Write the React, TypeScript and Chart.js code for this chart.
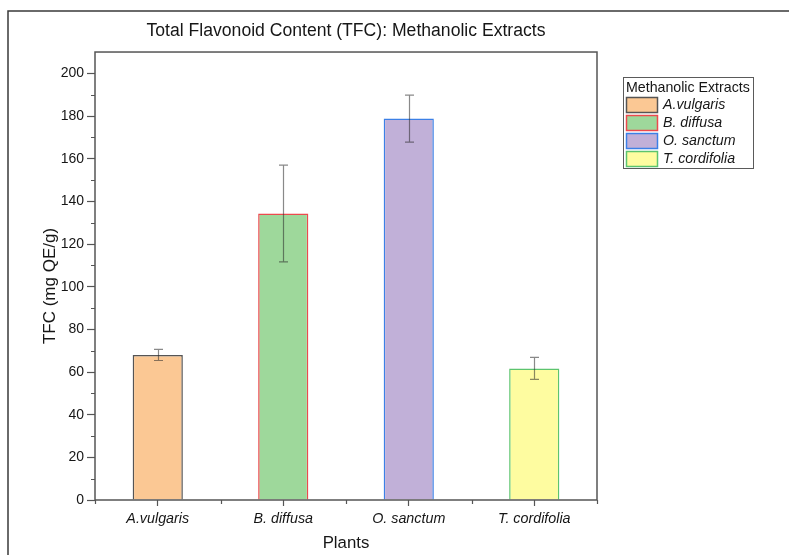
import React, { useEffect, useRef } from "react";
import { Chart, registerables } from "chart.js";

Chart.register(...registerables);

// ---- data ----
const categories = ["A.vulgaris", "B. diffusa", "O. sanctum", "T. cordifolia"];
const tfcValues = [68.0, 134.3, 178.8, 61.7];
const tfcErrors = [2.6, 22.7, 11.0, 5.2];
const yMinorTicks = [10, 30, 50, 70, 90, 110, 130, 150, 170, 190];
const fillColors = ["#FBC894", "#9ED89B", "#C1B0D8", "#FEFCA0"];
const borderColors = ["#555555", "#EC4A4E", "#3C80E6", "#5CC46E"];
const chartTitle = "Total Flavonoid Content (TFC): Methanolic Extracts";
const yAxisTitle = "TFC (mg QE/g)";
const xAxisTitle = "Plants";
const legendTitle = "Methanolic Extracts";

const FONT = "'Liberation Sans', Arial, sans-serif";
const TEXT = "#161616";
const AXIS = "#555555";

const decorPlugin = {
  id: "decor",
  afterDraw(chart: any) {
    const { ctx, chartArea: ca, scales } = chart;
    const xs = scales.x;
    const ys = scales.y;
    ctx.save();

    // error bars
    ctx.strokeStyle = "rgba(40,40,40,0.55)";
    ctx.lineWidth = 1.2;
    tfcValues.forEach((v, i) => {
      const px = Math.round(xs.getPixelForValue(i)) + 0.5;
      const top = ys.getPixelForValue(v + tfcErrors[i]);
      const bot = ys.getPixelForValue(v - tfcErrors[i]);
      ctx.beginPath();
      ctx.moveTo(px, top);
      ctx.lineTo(px, bot);
      ctx.moveTo(px - 4.5, top);
      ctx.lineTo(px + 4.5, top);
      ctx.moveTo(px - 4.5, bot);
      ctx.lineTo(px + 4.5, bot);
      ctx.stroke();
    });

    // plot frame
    ctx.strokeStyle = AXIS;
    ctx.lineWidth = 1.5;
    ctx.strokeRect(ca.left, ca.top, ca.right - ca.left, ca.bottom - ca.top);

    // minor ticks
    ctx.lineWidth = 1.2;
    ctx.beginPath();
    yMinorTicks.forEach((v) => {
      const py = Math.round(ys.getPixelForValue(v)) + 0.5;
      ctx.moveTo(ca.left - 4, py);
      ctx.lineTo(ca.left, py);
    });
    for (let i = 0; i <= categories.length; i++) {
      const px = Math.round(xs.getPixelForValue(i - 0.5)) + 0.5;
      ctx.moveTo(px, ca.bottom);
      ctx.lineTo(px, ca.bottom + 4);
    }
    ctx.stroke();

    // y axis title
    ctx.fillStyle = TEXT;
    ctx.font = `17px ${FONT}`;
    ctx.textAlign = "center";
    ctx.textBaseline = "middle";
    ctx.save();
    ctx.translate(50, 286);
    ctx.rotate(-Math.PI / 2);
    ctx.fillText(yAxisTitle, 0, 0);
    ctx.restore();

    // legend
    const lx = 623.5;
    const ly = 77.5;
    ctx.strokeStyle = "#5a5a5a";
    ctx.lineWidth = 1;
    ctx.strokeRect(lx, ly, 130, 91);
    ctx.textAlign = "left";
    ctx.font = `14.2px ${FONT}`;
    ctx.fillStyle = TEXT;
    ctx.fillText(legendTitle, 626, 88);
    categories.forEach((c, i) => {
      const cy = 105 + i * 18;
      ctx.fillStyle = fillColors[i];
      ctx.fillRect(626.5, cy - 7.5, 31, 15);
      ctx.strokeStyle = borderColors[i];
      ctx.lineWidth = 1.5;
      ctx.strokeRect(626.5, cy - 7.5, 31, 15);
      ctx.fillStyle = TEXT;
      ctx.font = `italic 14.2px ${FONT}`;
      ctx.fillText(c, 663, cy + 0.5);
    });

    // outer frame
    ctx.strokeStyle = "#3a3a3a";
    ctx.lineWidth = 1.5;
    ctx.beginPath();
    ctx.moveTo(8, 555);
    ctx.lineTo(8, 11);
    ctx.lineTo(789, 11);
    ctx.stroke();

    ctx.restore();
  },
};

export default function App() {
  const ref = useRef<HTMLCanvasElement | null>(null);

  useEffect(() => {
    if (!ref.current) return;
    const chart = new Chart(ref.current, {
      type: "bar",
      data: {
        labels: categories,
        datasets: [
          {
            label: legendTitle,
            data: tfcValues,
            backgroundColor: fillColors,
            borderColor: borderColors,
            borderWidth: 1.5,
            categoryPercentage: 1,
            barPercentage: 0.4,
          },
        ],
      },
      options: {
        responsive: false,
        animation: false,
        devicePixelRatio: 1,
        layout: { padding: { left: 0, top: 0, right: 192, bottom: 0 } },
        plugins: {
          legend: { display: false },
          tooltip: { enabled: false },
          title: {
            display: true,
            text: chartTitle,
            fullSize: false,
            color: TEXT,
            font: { family: FONT, size: 17.6, weight: "normal", lineHeight: 1.2 },
            padding: { top: 21, bottom: 9.9 },
          },
        },
        scales: {
          x: {
            afterFit: (s: any) => {
              s.height = 55;
            },
            grid: {
              display: true,
              drawOnChartArea: false,
              offset: false,
              tickLength: 6,
              tickColor: AXIS,
              tickWidth: 1.2,
            },
            border: { display: false },
            ticks: {
              color: TEXT,
              padding: 4,
              font: { family: FONT, size: 14.3, style: "italic" },
            },
            title: {
              display: true,
              text: xAxisTitle,
              color: TEXT,
              font: { family: FONT, size: 16.8 },
              padding: { top: 0, bottom: 2 },
            },
          },
          y: {
            min: 0,
            max: 210,
            afterFit: (s: any) => {
              s.width = 95;
            },
            grid: {
              display: true,
              drawOnChartArea: false,
              tickLength: 8,
              tickColor: AXIS,
              tickWidth: 1.2,
            },
            border: { display: false },
            ticks: {
              stepSize: 20,
              includeBounds: false,
              color: TEXT,
              padding: 3,
              font: { family: FONT, size: 14 },
            },
          },
        },
      },
      plugins: [decorPlugin],
    });
    return () => chart.destroy();
  }, []);

  return (
    <div style={{ position: "fixed", left: 0, top: 0, width: 789, height: 555, background: "#fff" }}>
      <canvas ref={ref} width={789} height={555} style={{ display: "block", width: 789, height: 555 }} />
    </div>
  );
}
